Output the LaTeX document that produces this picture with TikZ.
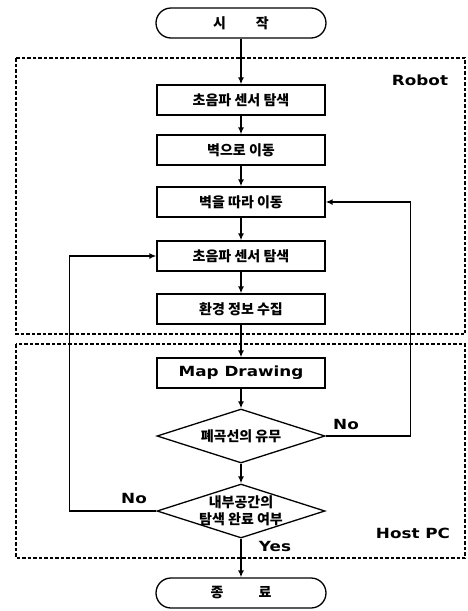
\documentclass[tikz,border=0pt]{standalone}
\usepackage{fontspec}
\newfontfamily\krfont{Noto Sans CJK KR}[BoldFont={Noto Sans CJK KR Black}]
\newfontfamily\hdfont[FakeStretch=1.2]{DejaVu Sans}
\usetikzlibrary{positioning}
\usetikzlibrary{shapes.geometric}
\usetikzlibrary{arrows.meta}

\begin{document}
\begin{tikzpicture}[
      , x=1pt, y=-1pt
      , process/.style={rectangle, draw, line width=1.3pt, minimum width=168pt, minimum height=30pt, inner sep=0pt, font=\krfont\bfseries\fontsize{14}{16}\selectfont}
      , terminal/.style={process, rounded corners=15pt, minimum width=170pt}
      , decision/.style={diamond, draw, line width=1.3pt, minimum width=168pt, minimum height=54pt, inner sep=0pt}
      , kr-text/.style={font=\krfont\bfseries\fontsize{14}{17}\selectfont, align=center}
      , hd-text/.style={font=\hdfont\bfseries\fontsize{14}{16}\selectfont}
      , area/.style={line width=1.3pt, dash pattern=on 3.5pt off 2pt}
      , flow/.style={->, line width=1.4pt}
      , on grid
      ]

      \tikzset{>={Latex[length=7pt,width=6pt]}}

      \useasboundingbox (0,0) rectangle (467,611);

      % dashed areas
      \draw[area] (16,58) rectangle (465,334);
      \node[hd-text] (robot-label) at (420,80) {Robot};
      \draw[area] (16,344) rectangle (465,558);
      \node[hd-text] (host-label) at (413,533) {Host PC};

      \node[terminal] (start) at (241,23) {시\hspace{30pt}작};
      \node[process, below = 77pt of start] (sense1) {초음파 센서 탐색};
      \node[process, below = 50pt of sense1] (to-wall) {벽으로 이동};
      \node[process, below = 52pt of to-wall] (follow) {벽을 따라 이동};
      \node[process, below = 54pt of follow] (sense2) {초음파 센서 탐색};
      \node[process, below = 53pt of sense2] (collect) {환경 정보 수집};
      \node[process, hd-text, below = 64pt of collect] (map) {Map Drawing};
      \node[decision, below = 63pt of map, label={[kr-text]center:폐곡선의 유무}] (closed) {};
      \node[decision, below = 75pt of closed, label={[kr-text]center:내부공간의\\탐색 완료 여부}] (done) {};
      \node[terminal, below = 82pt of done] (finish) {종\hspace{35pt}료};

      \draw[flow] (start) -- (sense1);
      \draw[flow] (sense1) -- (to-wall);
      \draw[flow] (to-wall) -- (follow);
      \draw[flow] (follow) -- (sense2);
      \draw[flow] (sense2) -- (collect);
      \draw[flow] (collect) -- (map);
      \draw[flow] (map) -- (closed);
      \draw[flow] (closed) -- (done);
      \draw[flow] (done) -- (finish);

      % loops back
      \draw[flow] (closed.east) -- ++(85,0) |- (follow.east);
      \node[hd-text] (no-right) at (346,424) {No};
      \draw[flow] (done.west) -- ++(-87,0) |- (sense2.west);
      \node[hd-text] (no-left) at (134,498) {No};
      \node[hd-text] (yes) at (275,546) {Yes};
    \end{tikzpicture}
\end{document}
